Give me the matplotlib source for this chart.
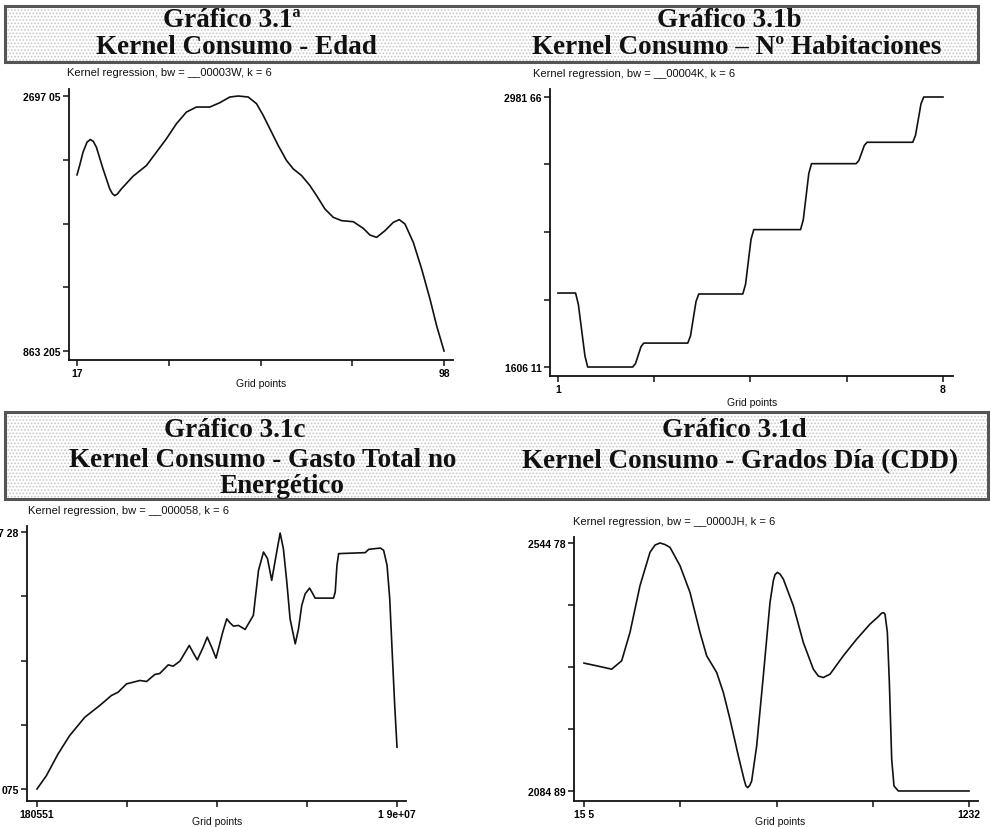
import matplotlib
matplotlib.use('Agg')
import matplotlib.pyplot as plt
import numpy as np
from matplotlib.patches import Rectangle

# ---- datos ----
# 3.1a  Consumo - Edad
edad_x = [17.0, 17.6, 18.33, 19.2, 19.95, 20.6, 21.27, 22.74, 24.22, 24.8, 25.32, 25.9,
          26.79, 29.37, 32.32,
          34.53, 36.73, 38.94, 41.15, 43.36, 46.31, 48.52, 50.73, 52.57, 54.78,
          56.62, 58.09, 59.56, 61.40, 63.24, 64.72, 66.56, 68.40, 69.87, 71.71,
          73.55, 75.39, 77.97, 80.18, 81.65, 83.12, 84.97, 86.81, 88.13, 89.38,
          91.22, 93.07, 94.91, 96.38, 98.0]
edad_y = [2129.8, 2200.0, 2293.3, 2365.0, 2384.6, 2370.0, 2329.3, 2173.1, 2028.9, 1995.0, 1980.8, 1992.0,
          2028.9, 2120.2, 2197.1,
          2293.3, 2389.4, 2497.6, 2581.7, 2617.7, 2617.7, 2649.0, 2689.8, 2697.05, 2689.8,
          2641.8, 2557.7, 2461.5, 2341.3, 2233.2, 2173.1, 2125.0, 2052.9, 1980.8, 1884.7,
          1824.6, 1800.6, 1793.0, 1745.3, 1697.2, 1680.4, 1728.5, 1788.5, 1807.8, 1776.5,
          1644.3, 1452.1, 1235.7, 1043.5, 863.205]

# 3.1b  Consumo - N. habitaciones
hab_x = [1.00, 1.32, 1.37, 1.43, 1.49, 1.54,
         2.36, 2.41, 2.46, 2.51, 2.56,
         3.36, 3.41, 3.46, 3.51, 3.56,
         4.36, 4.41, 4.46, 4.51, 4.56,
         5.41, 5.46, 5.51, 5.56, 5.61,
         6.42, 6.47, 6.52, 6.57, 6.62,
         7.45, 7.50, 7.55, 7.60, 7.65, 8.00]
hab_y = [1983, 1983, 1926, 1795, 1663, 1606.11,
         1606.11, 1624, 1667, 1710, 1728,
         1728, 1765, 1853, 1940, 1978,
         1978, 2027, 2142, 2257, 2306,
         2306, 2356, 2474, 2592, 2642,
         2642, 2658, 2696, 2735, 2751,
         2751, 2786, 2866, 2947, 2981.66, 2981.66]

# 3.1c  Consumo - Gasto total no energetico (millones)
gasto_x = [0.18, 0.67, 1.28, 1.89, 2.68, 3.46, 4.07, 4.42, 4.86, 5.56,
           5.91, 6.34, 6.60, 7.04, 7.30, 7.65, 7.91, 8.14, 8.35, 8.56,
           8.87, 9.08, 9.31, 9.54, 9.89, 10.10, 10.27, 10.45, 10.71, 11.06,
           11.49, 11.76, 12.02, 12.23, 12.45, 12.68, 12.89, 13.06, 13.24, 13.41,
           13.68, 13.85, 14.02, 14.20, 14.43, 14.60, 14.72, 15.68, 15.77, 15.86,
           15.95, 17.34, 17.52, 18.13, 18.30, 18.48, 18.62, 18.74, 18.88, 19.0]
gasto_y = [1200, 1293, 1445, 1574, 1702, 1784, 1854, 1877, 1935, 1959,
           1952, 2001, 2008, 2068, 2059, 2094, 2152, 2204, 2152, 2103,
           2192, 2262, 2192, 2115, 2297, 2390, 2362, 2339, 2344, 2316,
           2414, 2729, 2857, 2811, 2659, 2834, 2990, 2881, 2647, 2390,
           2215, 2320, 2484, 2565, 2605, 2565, 2535, 2535, 2577, 2764,
           2846, 2853, 2876, 2885, 2869, 2764, 2530, 2180, 1784, 1492]

# 3.1d  Consumo - Grados dia (CDD)
cdd_x = [15.5, 55.5, 102.9, 134.5, 160.8, 192.4, 224.0, 240.0, 255.6, 271.0, 287.2, 318.8,
         350.4, 382.0, 403.1, 434.7, 455.8, 476.8, 503.2, 521.1, 527.0, 532.6, 539.0, 545.3,
         561.1, 582.1, 603.2, 613.7, 619.0, 626.4, 635.0, 645.3, 676.9, 708.5, 740.1, 756.0, 771.7,
         792.8, 834.9, 877.1, 919.2, 945.0, 956.1, 962.0, 966.6, 974.0, 980.3, 987.7, 995.0,
         1008.7, 1087.7, 1232.0]
cdd_y = [2322.0, 2317.0, 2310.8, 2326.3, 2378.9, 2465.6, 2527.5, 2541.0, 2544.78, 2542.0, 2536.7, 2502.7,
         2453.2, 2378.9, 2335.6, 2304.6, 2267.5, 2218.0, 2149.9, 2106.6, 2094.5, 2091.1, 2095.0, 2103.5,
         2168.5, 2298.4, 2434.6, 2474.8, 2486.0, 2490.3, 2487.0, 2477.9, 2428.4, 2360.3, 2310.8, 2298.0, 2295.3,
         2301.5, 2335.6, 2366.5, 2394.4, 2408.0, 2414.8, 2415.5, 2412.9, 2378.9, 2286.1, 2143.7, 2094.2,
         2084.89, 2084.89, 2084.89]

W, H = 991, 828
fig = plt.figure(figsize=(W / 100, H / 100), dpi=100)
fig.patch.set_facecolor('white')

# capa de fondo en pixeles para recuadros y textos
bg = fig.add_axes([0, 0, 1, 1])
bg.set_xlim(0, W)
bg.set_ylim(H, 0)
bg.axis('off')

plt.rcParams['hatch.color'] = '#c8c8c8'
plt.rcParams['hatch.linewidth'] = 0.8


def banner(x0, y0, x1, y1):
    bg.add_patch(Rectangle((x0, y0), x1 - x0, y1 - y0, facecolor='white',
                           edgecolor='#c8c8c8', hatch='.....', lw=0))
    bg.add_patch(Rectangle((x0, y0), x1 - x0, y1 - y0, fill=False,
                           edgecolor='#555555', lw=2.2))


banner(5, 7, 978, 63)
banner(5, 413, 988, 500)

serif = dict(family='Liberation Serif', weight='bold', size=19.5, color='#111111',
             ha='center', va='baseline')
bg.text(232, 27, 'Gráfico 3.1ª', **serif)
bg.text(236, 54, 'Kernel Consumo - Edad', **serif)
bg.text(729, 27, 'Gráfico 3.1b', **serif)
bg.text(737, 54, 'Kernel Consumo – Nº Habitaciones', **serif)
bg.text(235, 437, 'Gráfico 3.1c', **serif)
bg.text(263, 467, 'Kernel Consumo - Gasto Total no', **serif)
bg.text(282, 493, 'Energético', **serif)
bg.text(734, 437, 'Gráfico 3.1d', **serif)
bg.text(740, 468, 'Kernel Consumo - Grados Día (CDD)', **serif)

small = dict(family='Liberation Sans', size=8, color='#111111', va='baseline')
bg.text(67, 76, 'Kernel regression, bw = __00003W, k = 6', **small)
bg.text(533, 77, 'Kernel regression, bw = __00004K, k = 6', **small)
bg.text(28, 514, 'Kernel regression, bw = __000058, k = 6', **small)
bg.text(573, 525, 'Kernel regression, bw = __0000JH, k = 6', **small)


def panel(box, xs, ys, xlim, ylim, xt, yt, xlab, ylab, label_xy):
    x0, y0, x1, y1 = box
    ax = fig.add_axes([x0 / W, 1 - y1 / H, (x1 - x0) / W, (y1 - y0) / H])
    ax.patch.set_alpha(0)
    ax.plot(xs, ys, color='#111111', lw=1.2, solid_joinstyle='round')
    ax.set_xlim(*xlim)
    ax.set_ylim(*ylim)
    for s in ['top', 'right']:
        ax.spines[s].set_visible(False)
    for s in ['left', 'bottom']:
        ax.spines[s].set_linewidth(1.3)
        ax.spines[s].set_color('#111111')
    ax.set_xticks(np.linspace(xt[0], xt[1], 5))
    ax.set_xticklabels([xlab[0], '', '', '', xlab[1]])
    ax.set_yticks(np.linspace(yt[0], yt[1], 5))
    ax.set_yticklabels([ylab[0], '', '', '', ylab[1]])
    ax.tick_params(direction='out', length=4, width=1.1, color='#111111',
                   labelsize=7.5, pad=2)
    for t in ax.get_xticklabels() + ax.get_yticklabels():
        t.set_family('Liberation Sans')
        t.set_weight('bold')
    bg.text(label_xy[0], label_xy[1], 'Grid points', family='Liberation Sans',
            size=7.5, color='#111111', ha='center', va='center')
    return ax


panel((69, 90, 453, 361), edad_x, edad_y, (15.23, 99.98), (798.5, 2747.4),
      (17, 98), (863.205, 2697.05), ('17', '98'), ('863 205', '2697 05'), (261, 384))
panel((550, 90, 953, 377), hab_x, hab_y, (0.855, 8.182), (1560.3, 3022.4),
      (1, 8), (1606.11, 2981.66), ('1', '8'), ('1606 11', '2981 66'), (752, 403))
panel((27, 527, 406, 802), gasto_x, gasto_y, (-0.342, 19.47), (1116.2, 3039.2),
      (0.180551, 19.0), (1200.075, 2997.28), ('180551', '1 9e+07'), ('075', '7 28'), (217, 822))
panel((574, 538, 978, 802), cdd_x, cdd_y, (-16.1, 1260.4), (2066.3, 2555.9),
      (15.5, 1232), (2084.89, 2544.78), ('15 5', '1232'), ('2084 89', '2544 78'), (780, 822))

fig.savefig('out.png', dpi=100, facecolor='white')
